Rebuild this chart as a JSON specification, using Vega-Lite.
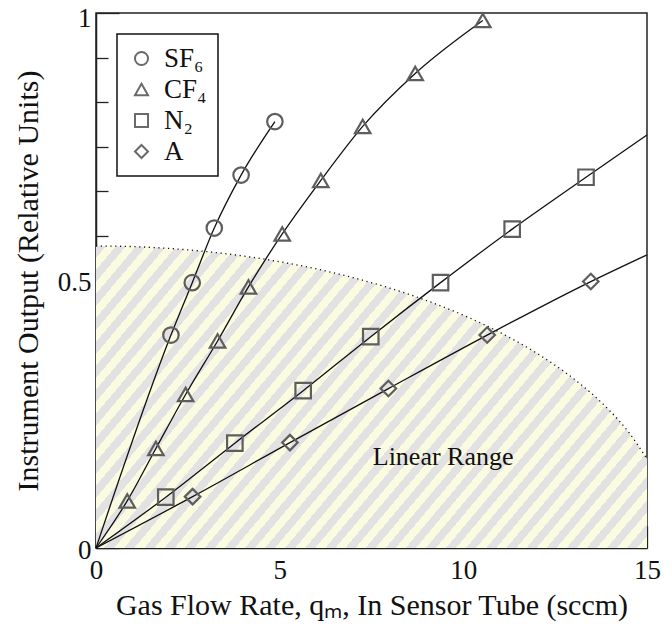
{
  "$schema": "https://vega.github.io/schema/vega-lite/v6.json",
  "width": 551,
  "height": 535,
  "autosize": {"type": "none"},
  "padding": {"left": 96, "top": 13, "right": 25, "bottom": 82},
  "background": "white",
  "config": {
    "view": {"stroke": "#222", "strokeWidth": 1.5},
    "font": "Liberation Serif",
    "legend": {
      "orient": "top-left",
      "offset": 21,
      "strokeColor": "#111",
      "strokeWidth": 1.5,
      "fillColor": "white",
      "padding": 11,
      "labelFont": "Liberation Serif",
      "labelFontSize": 27,
      "labelColor": "#111",
      "labelOffset": 9,
      "rowPadding": 3,
      "symbolSize": 170,
      "symbolStrokeWidth": 2,
      "symbolStrokeColor": "#6a6a6a",
      "symbolFillColor": "transparent"
    }
  },
  "datasets": {
    "hatch": [
      {"x": 0, "y": 0.5645}, {"x": 1, "y": 0.5634}, {"x": 2, "y": 0.5599}, {"x": 3, "y": 0.5541},
      {"x": 4, "y": 0.5459}, {"x": 5, "y": 0.5351}, {"x": 6, "y": 0.5217}, {"x": 7, "y": 0.5053},
      {"x": 8, "y": 0.4857}, {"x": 9, "y": 0.4625}, {"x": 10, "y": 0.4352}, {"x": 11, "y": 0.4028},
      {"x": 12, "y": 0.364}, {"x": 13, "y": 0.3165}, {"x": 13.5, "y": 0.2882}, {"x": 14, "y": 0.2555},
      {"x": 14.5, "y": 0.2165}, {"x": 15, "y": 0.1667}
    ],
    "lines": [
      {"gas": "SF₆", "x": 0, "y": 0}, {"gas": "SF₆", "x": 2.04, "y": 0.398}, {"gas": "SF₆", "x": 2.62, "y": 0.496},
      {"gas": "SF₆", "x": 3.22, "y": 0.598}, {"gas": "SF₆", "x": 3.95, "y": 0.697}, {"gas": "SF₆", "x": 4.87, "y": 0.797},
      {"gas": "CF₄", "x": 0, "y": 0}, {"gas": "CF₄", "x": 0.85, "y": 0.088}, {"gas": "CF₄", "x": 1.63, "y": 0.186},
      {"gas": "CF₄", "x": 2.44, "y": 0.287}, {"gas": "CF₄", "x": 3.31, "y": 0.387}, {"gas": "CF₄", "x": 4.15, "y": 0.488},
      {"gas": "CF₄", "x": 5.07, "y": 0.587}, {"gas": "CF₄", "x": 6.12, "y": 0.687}, {"gas": "CF₄", "x": 7.26, "y": 0.788},
      {"gas": "CF₄", "x": 8.69, "y": 0.887}, {"gas": "CF₄", "x": 10.53, "y": 0.986},
      {"gas": "N₂", "x": 0, "y": 0}, {"gas": "N₂", "x": 1.9, "y": 0.095}, {"gas": "N₂", "x": 3.78, "y": 0.196},
      {"gas": "N₂", "x": 5.64, "y": 0.294}, {"gas": "N₂", "x": 7.48, "y": 0.395}, {"gas": "N₂", "x": 9.38, "y": 0.496},
      {"gas": "N₂", "x": 11.33, "y": 0.596}, {"gas": "N₂", "x": 13.34, "y": 0.693}, {"gas": "N₂", "x": 15, "y": 0.772},
      {"gas": "A", "x": 0, "y": 0}, {"gas": "A", "x": 2.63, "y": 0.096}, {"gas": "A", "x": 5.28, "y": 0.197},
      {"gas": "A", "x": 7.96, "y": 0.298}, {"gas": "A", "x": 10.65, "y": 0.398}, {"gas": "A", "x": 13.47, "y": 0.498},
      {"gas": "A", "x": 15, "y": 0.548}
    ],
    "points": [
      {"gas": "SF₆", "x": 2.04, "y": 0.398}, {"gas": "SF₆", "x": 2.62, "y": 0.496}, {"gas": "SF₆", "x": 3.22, "y": 0.598},
      {"gas": "SF₆", "x": 3.95, "y": 0.697}, {"gas": "SF₆", "x": 4.87, "y": 0.797},
      {"gas": "CF₄", "x": 0.85, "y": 0.088}, {"gas": "CF₄", "x": 1.63, "y": 0.186}, {"gas": "CF₄", "x": 2.44, "y": 0.287},
      {"gas": "CF₄", "x": 3.31, "y": 0.387}, {"gas": "CF₄", "x": 4.15, "y": 0.488}, {"gas": "CF₄", "x": 5.07, "y": 0.587},
      {"gas": "CF₄", "x": 6.12, "y": 0.687}, {"gas": "CF₄", "x": 7.26, "y": 0.788}, {"gas": "CF₄", "x": 8.69, "y": 0.887},
      {"gas": "CF₄", "x": 10.53, "y": 0.986},
      {"gas": "N₂", "x": 1.9, "y": 0.095}, {"gas": "N₂", "x": 3.78, "y": 0.196}, {"gas": "N₂", "x": 5.64, "y": 0.294},
      {"gas": "N₂", "x": 7.48, "y": 0.395}, {"gas": "N₂", "x": 9.38, "y": 0.496}, {"gas": "N₂", "x": 11.33, "y": 0.596},
      {"gas": "N₂", "x": 13.34, "y": 0.693},
      {"gas": "A", "x": 2.63, "y": 0.096}, {"gas": "A", "x": 5.28, "y": 0.197}, {"gas": "A", "x": 7.96, "y": 0.298},
      {"gas": "A", "x": 10.65, "y": 0.398}, {"gas": "A", "x": 13.47, "y": 0.498}
    ],
    "label": [{"x": 9.45, "y": 0.155, "text": "Linear Range"}]
  },
  "encoding": {
    "x": {
      "field": "x",
      "type": "quantitative",
      "scale": {"domain": [0, 15], "nice": false, "zero": false},
      "axis": {
        "values": [0, 0.8333333, 1.6666667, 2.5, 3.3333333, 4.1666667, 5, 5.8333333, 6.6666667, 7.5, 8.3333333, 9.1666667, 10, 10.8333333, 11.6666667, 12.5, 13.3333333, 14.1666667, 15],
        "labelExpr": "abs(datum.value) < 0.001 ? '0' : (abs(datum.value - 5) < 0.001 ? '5' : (abs(datum.value - 10) < 0.001 ? '10' : (abs(datum.value - 15) < 0.001 ? '15' : '')))",
        "tickSize": {"condition": {"test": "abs(datum.value - round(datum.value / 5) * 5) < 0.001", "value": -22}, "value": -11},
        "tickColor": "#222",
        "tickWidth": 1.3,
        "domainColor": "#222",
        "domainWidth": 1.5,
        "grid": false,
        "labelFont": "Liberation Serif",
        "labelFontSize": 27,
        "labelColor": "#111",
        "labelPadding": 31,
        "labelFlush": false,
        "labelOverlap": false,
        "title": "Gas Flow Rate, qₘ, In Sensor Tube (sccm)",
        "titleFont": "Liberation Serif",
        "titleFontSize": 30,
        "titleFontWeight": "normal",
        "titleColor": "#111",
        "titlePadding": -4
      }
    },
    "y": {
      "field": "y",
      "type": "quantitative",
      "scale": {"domain": [0, 1], "nice": false, "zero": false},
      "axis": {
        "values": [0, 0.0833333, 0.1666667, 0.25, 0.3333333, 0.4166667, 0.5, 0.5833333, 0.6666667, 0.75, 0.8333333, 0.9166667, 1],
        "labelExpr": "abs(datum.value) < 0.001 ? '0' : (abs(datum.value - 0.5) < 0.001 ? '0.5' : (abs(datum.value - 1) < 0.001 ? '1' : ''))",
        "tickSize": {"condition": {"test": "abs(datum.value - round(datum.value * 2) / 2) < 0.001", "value": -23}, "value": -12},
        "labelOffset": {"condition": {"test": "datum.value > 0.99", "value": 5}, "value": 2},
        "tickColor": "#222",
        "tickWidth": 1.3,
        "domainColor": "#222",
        "domainWidth": 1.5,
        "grid": false,
        "labelFont": "Liberation Serif",
        "labelFontSize": 27,
        "labelColor": "#111",
        "labelPadding": 28,
        "labelFlush": false,
        "labelOverlap": false,
        "title": "Instrument Output (Relative Units)",
        "titleFont": "Liberation Serif",
        "titleFontSize": 30,
        "titleFontWeight": "normal",
        "titleColor": "#111",
        "titlePadding": 14
      }
    }
  },
  "layer": [
    {
      "data": {"name": "hatch"},
      "mark": {
        "type": "area",
        "interpolate": "monotone",
        "fill": {
          "gradient": "linear",
          "x1": 0, "y1": 0, "x2": 1.205, "y2": 0.554,
          "stops": [
            {"offset": 0, "color": "#e2e2e2"}, {"offset": 0.0125, "color": "#e2e2e2"}, {"offset": 0.0125, "color": "#fbfbe2"}, {"offset": 0.025, "color": "#fbfbe2"},
            {"offset": 0.025, "color": "#e2e2e2"}, {"offset": 0.0375, "color": "#e2e2e2"}, {"offset": 0.0375, "color": "#fbfbe2"}, {"offset": 0.05, "color": "#fbfbe2"},
            {"offset": 0.05, "color": "#e2e2e2"}, {"offset": 0.0625, "color": "#e2e2e2"}, {"offset": 0.0625, "color": "#fbfbe2"}, {"offset": 0.075, "color": "#fbfbe2"},
            {"offset": 0.075, "color": "#e2e2e2"}, {"offset": 0.0875, "color": "#e2e2e2"}, {"offset": 0.0875, "color": "#fbfbe2"}, {"offset": 0.1, "color": "#fbfbe2"},
            {"offset": 0.1, "color": "#e2e2e2"}, {"offset": 0.1125, "color": "#e2e2e2"}, {"offset": 0.1125, "color": "#fbfbe2"}, {"offset": 0.125, "color": "#fbfbe2"},
            {"offset": 0.125, "color": "#e2e2e2"}, {"offset": 0.1375, "color": "#e2e2e2"}, {"offset": 0.1375, "color": "#fbfbe2"}, {"offset": 0.15, "color": "#fbfbe2"},
            {"offset": 0.15, "color": "#e2e2e2"}, {"offset": 0.1625, "color": "#e2e2e2"}, {"offset": 0.1625, "color": "#fbfbe2"}, {"offset": 0.175, "color": "#fbfbe2"},
            {"offset": 0.175, "color": "#e2e2e2"}, {"offset": 0.1875, "color": "#e2e2e2"}, {"offset": 0.1875, "color": "#fbfbe2"}, {"offset": 0.2, "color": "#fbfbe2"},
            {"offset": 0.2, "color": "#e2e2e2"}, {"offset": 0.2125, "color": "#e2e2e2"}, {"offset": 0.2125, "color": "#fbfbe2"}, {"offset": 0.225, "color": "#fbfbe2"},
            {"offset": 0.225, "color": "#e2e2e2"}, {"offset": 0.2375, "color": "#e2e2e2"}, {"offset": 0.2375, "color": "#fbfbe2"}, {"offset": 0.25, "color": "#fbfbe2"},
            {"offset": 0.25, "color": "#e2e2e2"}, {"offset": 0.2625, "color": "#e2e2e2"}, {"offset": 0.2625, "color": "#fbfbe2"}, {"offset": 0.275, "color": "#fbfbe2"},
            {"offset": 0.275, "color": "#e2e2e2"}, {"offset": 0.2875, "color": "#e2e2e2"}, {"offset": 0.2875, "color": "#fbfbe2"}, {"offset": 0.3, "color": "#fbfbe2"},
            {"offset": 0.3, "color": "#e2e2e2"}, {"offset": 0.3125, "color": "#e2e2e2"}, {"offset": 0.3125, "color": "#fbfbe2"}, {"offset": 0.325, "color": "#fbfbe2"},
            {"offset": 0.325, "color": "#e2e2e2"}, {"offset": 0.3375, "color": "#e2e2e2"}, {"offset": 0.3375, "color": "#fbfbe2"}, {"offset": 0.35, "color": "#fbfbe2"},
            {"offset": 0.35, "color": "#e2e2e2"}, {"offset": 0.3625, "color": "#e2e2e2"}, {"offset": 0.3625, "color": "#fbfbe2"}, {"offset": 0.375, "color": "#fbfbe2"},
            {"offset": 0.375, "color": "#e2e2e2"}, {"offset": 0.3875, "color": "#e2e2e2"}, {"offset": 0.3875, "color": "#fbfbe2"}, {"offset": 0.4, "color": "#fbfbe2"},
            {"offset": 0.4, "color": "#e2e2e2"}, {"offset": 0.4125, "color": "#e2e2e2"}, {"offset": 0.4125, "color": "#fbfbe2"}, {"offset": 0.425, "color": "#fbfbe2"},
            {"offset": 0.425, "color": "#e2e2e2"}, {"offset": 0.4375, "color": "#e2e2e2"}, {"offset": 0.4375, "color": "#fbfbe2"}, {"offset": 0.45, "color": "#fbfbe2"},
            {"offset": 0.45, "color": "#e2e2e2"}, {"offset": 0.4625, "color": "#e2e2e2"}, {"offset": 0.4625, "color": "#fbfbe2"}, {"offset": 0.475, "color": "#fbfbe2"},
            {"offset": 0.475, "color": "#e2e2e2"}, {"offset": 0.4875, "color": "#e2e2e2"}, {"offset": 0.4875, "color": "#fbfbe2"}, {"offset": 0.5, "color": "#fbfbe2"},
            {"offset": 0.5, "color": "#e2e2e2"}, {"offset": 0.5125, "color": "#e2e2e2"}, {"offset": 0.5125, "color": "#fbfbe2"}, {"offset": 0.525, "color": "#fbfbe2"},
            {"offset": 0.525, "color": "#e2e2e2"}, {"offset": 0.5375, "color": "#e2e2e2"}, {"offset": 0.5375, "color": "#fbfbe2"}, {"offset": 0.55, "color": "#fbfbe2"},
            {"offset": 0.55, "color": "#e2e2e2"}, {"offset": 0.5625, "color": "#e2e2e2"}, {"offset": 0.5625, "color": "#fbfbe2"}, {"offset": 0.575, "color": "#fbfbe2"},
            {"offset": 0.575, "color": "#e2e2e2"}, {"offset": 0.5875, "color": "#e2e2e2"}, {"offset": 0.5875, "color": "#fbfbe2"}, {"offset": 0.6, "color": "#fbfbe2"},
            {"offset": 0.6, "color": "#e2e2e2"}, {"offset": 0.6125, "color": "#e2e2e2"}, {"offset": 0.6125, "color": "#fbfbe2"}, {"offset": 0.625, "color": "#fbfbe2"},
            {"offset": 0.625, "color": "#e2e2e2"}, {"offset": 0.6375, "color": "#e2e2e2"}, {"offset": 0.6375, "color": "#fbfbe2"}, {"offset": 0.65, "color": "#fbfbe2"},
            {"offset": 0.65, "color": "#e2e2e2"}, {"offset": 0.6625, "color": "#e2e2e2"}, {"offset": 0.6625, "color": "#fbfbe2"}, {"offset": 0.675, "color": "#fbfbe2"},
            {"offset": 0.675, "color": "#e2e2e2"}, {"offset": 0.6875, "color": "#e2e2e2"}, {"offset": 0.6875, "color": "#fbfbe2"}, {"offset": 0.7, "color": "#fbfbe2"},
            {"offset": 0.7, "color": "#e2e2e2"}, {"offset": 0.7125, "color": "#e2e2e2"}, {"offset": 0.7125, "color": "#fbfbe2"}, {"offset": 0.725, "color": "#fbfbe2"},
            {"offset": 0.725, "color": "#e2e2e2"}, {"offset": 0.7375, "color": "#e2e2e2"}, {"offset": 0.7375, "color": "#fbfbe2"}, {"offset": 0.75, "color": "#fbfbe2"},
            {"offset": 0.75, "color": "#e2e2e2"}, {"offset": 0.7625, "color": "#e2e2e2"}, {"offset": 0.7625, "color": "#fbfbe2"}, {"offset": 0.775, "color": "#fbfbe2"},
            {"offset": 0.775, "color": "#e2e2e2"}, {"offset": 0.7875, "color": "#e2e2e2"}, {"offset": 0.7875, "color": "#fbfbe2"}, {"offset": 0.8, "color": "#fbfbe2"},
            {"offset": 0.8, "color": "#e2e2e2"}, {"offset": 0.8125, "color": "#e2e2e2"}, {"offset": 0.8125, "color": "#fbfbe2"}, {"offset": 0.825, "color": "#fbfbe2"},
            {"offset": 0.825, "color": "#e2e2e2"}, {"offset": 0.8375, "color": "#e2e2e2"}, {"offset": 0.8375, "color": "#fbfbe2"}, {"offset": 0.85, "color": "#fbfbe2"},
            {"offset": 0.85, "color": "#e2e2e2"}, {"offset": 0.8625, "color": "#e2e2e2"}, {"offset": 0.8625, "color": "#fbfbe2"}, {"offset": 0.875, "color": "#fbfbe2"},
            {"offset": 0.875, "color": "#e2e2e2"}, {"offset": 0.8875, "color": "#e2e2e2"}, {"offset": 0.8875, "color": "#fbfbe2"}, {"offset": 0.9, "color": "#fbfbe2"},
            {"offset": 0.9, "color": "#e2e2e2"}, {"offset": 0.9125, "color": "#e2e2e2"}, {"offset": 0.9125, "color": "#fbfbe2"}, {"offset": 0.925, "color": "#fbfbe2"},
            {"offset": 0.925, "color": "#e2e2e2"}, {"offset": 0.9375, "color": "#e2e2e2"}, {"offset": 0.9375, "color": "#fbfbe2"}, {"offset": 0.95, "color": "#fbfbe2"},
            {"offset": 0.95, "color": "#e2e2e2"}, {"offset": 0.9625, "color": "#e2e2e2"}, {"offset": 0.9625, "color": "#fbfbe2"}, {"offset": 0.975, "color": "#fbfbe2"},
            {"offset": 0.975, "color": "#e2e2e2"}, {"offset": 0.9875, "color": "#e2e2e2"}, {"offset": 0.9875, "color": "#fbfbe2"}, {"offset": 1, "color": "#fbfbe2"}
          ]
        }
      }
    },
    {
      "data": {"name": "hatch"},
      "mark": {"type": "line", "interpolate": "monotone", "color": "#111", "strokeWidth": 1.3, "strokeDash": [1.2, 3.6]},
      "encoding": {}
    },
    {
      "data": {"name": "lines"},
      "mark": {"type": "line", "interpolate": "monotone", "color": "#111", "strokeWidth": 1.3},
      "encoding": {"detail": {"field": "gas", "type": "nominal"}}
    },
    {
      "data": {"name": "points"},
      "mark": {"type": "point", "filled": false, "color": "#5e5e5e", "strokeWidth": 2.2, "opacity": 1, "size": 240},
      "encoding": {
        "shape": {
          "field": "gas",
          "type": "nominal",
          "scale": {"domain": ["SF₆", "CF₄", "N₂", "A"], "range": ["circle", "triangle-up", "square", "diamond"]},
          "legend": {"title": null}
        }
      }
    },
    {
      "data": {"name": "label"},
      "mark": {"type": "text", "font": "Liberation Serif", "fontSize": 26, "color": "#111", "align": "center", "baseline": "alphabetic"},
      "encoding": {"text": {"field": "text", "type": "nominal"}}
    }
  ]
}
